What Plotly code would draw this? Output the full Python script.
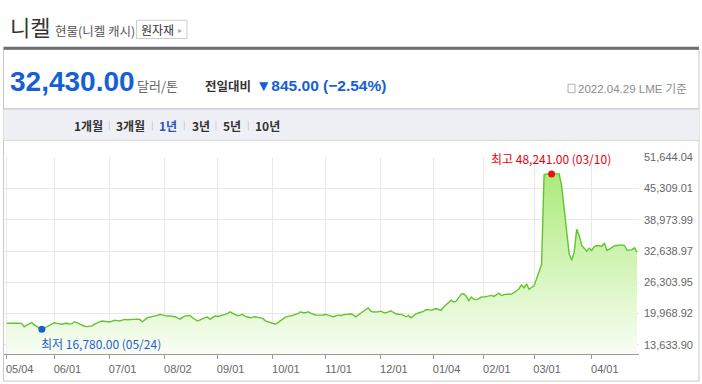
import plotly.graph_objects as go

# ---------------- data ----------------
DATES = [
    "05/04","05/05","05/06","05/07","05/10","05/11","05/12","05/13","05/14","05/17","05/18","05/19","05/20","05/21","05/24","05/25","05/26","05/27","05/28",
    "06/01","06/02","06/03","06/04","06/07","06/08","06/09","06/10","06/11","06/14","06/15","06/16","06/17","06/18","06/21","06/22","06/23","06/24","06/25","06/28","06/29","06/30",
    "07/01","07/02","07/05","07/06","07/07","07/08","07/09","07/12","07/13","07/14","07/15","07/16","07/19","07/20","07/21","07/22","07/23","07/26","07/27","07/28","07/29","07/30",
    "08/02","08/03","08/04","08/05","08/06","08/09","08/10","08/11","08/12","08/13","08/16","08/17","08/18","08/19","08/20","08/23","08/24","08/25","08/26","08/27","08/31",
    "09/01","09/02","09/03","09/06","09/07","09/08","09/09","09/10","09/13","09/14","09/15","09/16","09/17","09/20","09/21","09/22","09/23","09/24","09/27","09/28","09/29","09/30",
    "10/01","10/04","10/05","10/06","10/07","10/08","10/11","10/12","10/13","10/14","10/15","10/18","10/19","10/20","10/21","10/22","10/25","10/26","10/27","10/28","10/29",
    "11/01","11/02","11/03","11/04","11/05","11/08","11/09","11/10","11/11","11/12","11/15","11/16","11/17","11/18","11/19","11/22","11/23","11/24","11/25","11/26","11/29","11/30",
    "12/01","12/02","12/03","12/06","12/07","12/08","12/09","12/10","12/13","12/14","12/15","12/16","12/17","12/20","12/21","12/22","12/23","12/24","12/29","12/30","12/31",
    "01/04","01/05","01/06","01/07","01/10","01/11","01/12","01/13","01/14","01/17","01/18","01/19","01/20","01/21","01/24","01/25","01/26","01/27","01/28","01/31",
    "02/01","02/02","02/03","02/04","02/07","02/08","02/09","02/10","02/11","02/14","02/15","02/16","02/17","02/18","02/21","02/22","02/23","02/24","02/25","02/28",
    "03/01","03/02","03/03","03/04","03/07","03/08","03/09","03/10","03/11","03/14","03/15","03/16","03/17","03/18","03/21","03/22","03/23","03/24","03/25","03/28","03/29","03/30","03/31",
    "04/01","04/04","04/05","04/06","04/07","04/08","04/11","04/12","04/13","04/14","04/19","04/20","04/21","04/22","04/25","04/26","04/27","04/28","04/29",
]

PRICES = [
    # May 2021
    18000, 17950, 18050, 18020, 18100, 18050, 17950, 17280, 17620, 17950, 18130, 17700, 17380, 17100, 16780, 17050, 17300, 17650, 17920,
    # Jun
    18130, 18000, 17870, 17820, 17960, 18020, 17850, 17930, 18330, 18080, 17820, 17600, 17420, 17340, 17400, 17480, 17820, 18130, 18280, 18470, 18380, 18300,
    # Jul
    18270, 18450, 18610, 18540, 18470, 18650, 18810, 18740, 18790, 18820, 18770, 18850, 18800, 18330, 18700, 19130, 19260, 19350, 19470, 19620, 19810, 19700,
    # Aug
    19560, 19470, 19500, 19440, 19330, 19100, 18850, 19200, 19470, 19550, 19610, 19130, 18800, 18470, 18700, 19010, 19150, 19270, 18810, 19200, 19470,
    # Sep
    19400, 19500, 19600, 19810, 20000, 20330, 20000, 19750, 19550, 19650, 19810, 19400, 19250, 19130, 19250, 19330, 19200, 19130, 19000, 18500, 18330, 18130,
    # Oct
    18000, 17820, 18150, 18470, 18900, 19270, 19400, 19470, 19600, 19810, 19950, 20330, 20130, 20130, 20330, 20050, 19810, 19700, 19670, 19610, 19700,
    # Nov
    19800, 19700, 19500, 19330, 19500, 19670, 19600, 19750, 19810, 19850, 19930, 19700, 19330, 19700, 20130, 20470, 20800, 21120, 20470, 20300, 20270, 20350,
    # Dec
    20470, 20200, 20130, 20350, 20530, 20200, 19930, 19850, 19810, 19600, 19330, 19610, 19130, 19500, 19930, 20100, 20270, 20400, 20800, 20750, 20670,
    # Jan 2022
    20800, 21000, 20800, 20610, 21300, 21800, 22120, 22700, 22320, 22500, 23200, 23910, 23990, 23500, 22600, 23320, 22900, 22800, 23000, 23320,
    # Feb
    23300, 23460, 23550, 23650, 23460, 23750, 24110, 23650, 23800, 23910, 23900, 23910, 24200, 24590, 25000, 25790, 25200, 26000, 24900, 25250,
    # Mar
    25590, 27000, 28500, 29890, 48078, 48241, 48241, 48241, 48241, 48241, 48241, 45770, 40830, 36000, 32020, 30770, 32420, 37060, 35750, 33750, 33080, 32620, 33220,
    # Apr
    32760, 33520, 33750, 33710, 33610, 34270, 32760, 33020, 33320, 33670, 33750, 33810, 33870, 33750, 32820, 32820, 32920, 33275, 32430,
]

assert len(DATES) == len(PRICES), (len(DATES), len(PRICES))

X_TICKS = ["05/04", "06/01", "07/01", "08/02", "09/01", "10/01", "11/01", "12/01", "01/04", "02/01", "03/01", "04/01"]
Y_TICKS = [13633.90, 19968.92, 26303.95, 32638.97, 38973.99, 45309.01, 51644.04]
LOW_DATE = "05/24"
HIGH_DATE = "03/10"
AS_OF = "2022.04.29"
TABS = ["1개월", "3개월", "1년", "3년", "5년", "10년"]
ACTIVE_TAB = "1년"

low_val = min(PRICES)
high_val = max(PRICES)
last = PRICES[-1]
chg = PRICES[-1] - PRICES[-2]
pct = chg / PRICES[-2] * 100

# ---------------- styling ----------------
W, H = 702, 384
KR = "Noto Sans CJK KR"
LAT = "Liberation Sans, Arial, Noto Sans CJK KR"
BLUE = "#1560d6"


def rect(x0, y0, x1, y1, **kw):
    return dict(type="rect", xref="paper", yref="paper", x0=x0 / W, x1=x1 / W,
                y0=1 - y1 / H, y1=1 - y0 / H, **kw)


def hline(x0, x1, y, color, width=1):
    return dict(type="line", xref="paper", yref="paper", x0=x0 / W, x1=x1 / W,
                y0=1 - y / H, y1=1 - y / H, line=dict(color=color, width=width))


def vline(x, y0, y1, color, width=1):
    return dict(type="line", xref="paper", yref="paper", x0=x / W, x1=x / W,
                y0=1 - y0 / H, y1=1 - y1 / H, line=dict(color=color, width=width))


def txt(x, y, s, size, color, anchor="left", family=KR):
    return dict(xref="paper", yref="paper", x=x / W, y=1 - y / H, text=s, showarrow=False,
                xanchor=anchor, yanchor="middle", font=dict(size=size, color=color, family=family))


fig = go.Figure()

fig.add_trace(go.Scatter(
    x=DATES, y=PRICES, mode="lines",
    line=dict(color="#62c42c", width=1.4),
    fill="tozeroy",
    fillgradient=dict(type="vertical",
                      colorscale=[[0, "#fafef7"], [1, "#adea7b"]],
                      start=11700, stop=high_val),
    hoverinfo="skip",
))
fig.add_trace(go.Scatter(x=[LOW_DATE], y=[low_val], mode="markers",
                         marker=dict(color="#1c5fd4", size=7), hoverinfo="skip"))
fig.add_trace(go.Scatter(x=[HIGH_DATE], y=[high_val], mode="markers",
                         marker=dict(color="#ee1111", size=7), hoverinfo="skip"))

shapes = [
    rect(3.5, 44, 699, 381, line=dict(color="#c8c8c8", width=1), fillcolor="rgba(0,0,0,0)"),
    rect(3.5, 41.5, 699, 44.5, line=dict(width=0), fillcolor="#6c6f77"),
    rect(136.5, 14.5, 187, 33, line=dict(color="#cdcdcd", width=1), fillcolor="white"),
    rect(3.5, 104.5, 699, 136.5, line=dict(width=0), fillcolor="#eff0f5"),
    hline(3.5, 699, 104.5, "#b7bac2"),
    hline(3.5, 699, 136.5, "#d3d5db"),
    rect(568, 79.5, 575, 88, line=dict(color="#b0b0b0", width=1), fillcolor="white"),
]
for sx in [109.3, 152.3, 184.3, 216, 248.3]:
    shapes.append(vline(sx, 116.5, 126.5, "#d0d0d0"))

annotations = [
    txt(8, 20.5, "니켈", 22, "#333333"),
    txt(53, 24.5, "현물(니켈 캐시)", 12.5, "#555555"),
    txt(157, 24, "원자재", 12, "#333333", anchor="center"),
    txt(179.5, 24, "▸", 8, "#aaaaaa", anchor="center"),
    txt(8, 76.5, "<b>{:,.2f}</b>".format(last), 28, BLUE, family=LAT),
    txt(135, 81, "달러/톤", 13, "#666666"),
    txt(203, 80.5, "<b>전일대비</b>", 12.5, "#333333"),
    txt(254, 80.5, "<b>{}{:,.2f} (−{:.2f}%)</b>".format("▼" if chg < 0 else "▲", abs(chg), abs(pct)),
        15.5, BLUE, family=LAT),
    txt(576, 84, AS_OF + " LME 기준", 11.5, "#8c8c8c", family=LAT),
]
tab_x = [88.3, 130.7, 168.3, 200.5, 232.3, 267]
for tx, t in zip(tab_x, TABS):
    annotations.append(txt(tx, 121.7, "<b>" + t + "</b>", 12,
                           "#2d56b4" if t == ACTIVE_TAB else "#333333", anchor="center"))

annotations.append(dict(x=LOW_DATE, y=low_val, xref="x", yref="y", showarrow=False,
                        text="최저 {:,.2f} ({})".format(low_val, LOW_DATE),
                        xanchor="left", yanchor="middle", xshift=-3, yshift=-14,
                        font=dict(size=12, color="#1f5fd0", family=KR)))
annotations.append(dict(x=HIGH_DATE, y=high_val, xref="x", yref="y", showarrow=False,
                        text="최고 {:,.2f} ({})".format(high_val, HIGH_DATE),
                        xanchor="center", yanchor="middle", xshift=-1, yshift=15,
                        font=dict(size=12, color="#e8000b", family=KR)))

fig.update_layout(
    width=W, height=H,
    margin=dict(l=0, r=0, t=0, b=0),
    paper_bgcolor="white", plot_bgcolor="white",
    showlegend=False,
    shapes=shapes,
    annotations=annotations,
    xaxis=dict(
        domain=[4 / W, 639 / W], type="category",
        range=[-1.07, 251.8],
        tickvals=X_TICKS, ticktext=X_TICKS,
        tickfont=dict(size=11, color="#666666", family=LAT),
        ticks="outside", ticklen=4, tickcolor="#9a9a9a",
        showline=True, linecolor="#9a9a9a", linewidth=1,
        showgrid=True, gridcolor="#e8e8e8", gridwidth=1,
        ticklabelshift=13, zeroline=False, fixedrange=True,
    ),
    yaxis=dict(
        domain=[1 - 354 / H, 1 - 153.5 / H],
        range=[11700, Y_TICKS[-1]],
        side="right",
        tickvals=Y_TICKS, ticktext=["{:,.2f}".format(v) for v in Y_TICKS],
        tickfont=dict(size=11, color="#666666", family=LAT),
        ticks="", showline=False, ticklabelstandoff=4,
        showgrid=True, gridcolor="#e8e8e8", gridwidth=1,
        zeroline=False, fixedrange=True,
    ),
)

fig.write_html("out.html", config={"displayModeBar": False},
               post_script="document.body.style.margin='0';document.body.style.overflow='hidden';")
